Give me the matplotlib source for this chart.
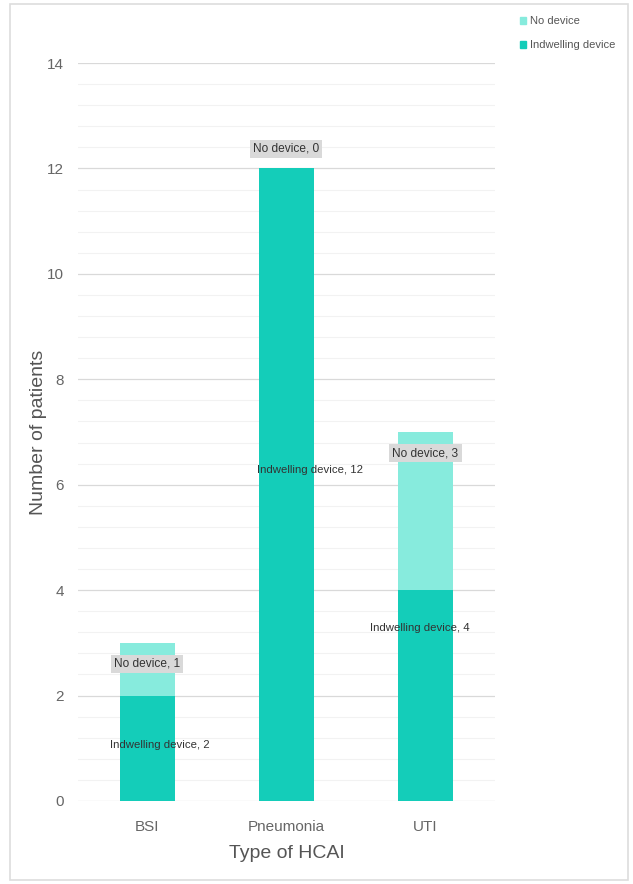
import matplotlib.pyplot as plt
from matplotlib.patches import Rectangle, Patch
from matplotlib.ticker import MultipleLocator

plt.rcParams['font.family'] = ['Liberation Sans', 'DejaVu Sans']

categories = ["BSI", "Pneumonia", "UTI"]
indwelling = [2, 12, 4]
no_device = [1, 0, 3]
indw_label_y = [1.06, 6.28, 3.28]
nodev_label_y = [2.6, 12.37, 6.6]
indw_label_dx = [0.09, 0.17, -0.04]

col_indw = "#14CDB9"
col_nodev = "#87EBDD"

fig = plt.figure(figsize=(6.33, 8.84), dpi=100)
ax = fig.add_axes([0.123, 0.0939, 0.659, 0.8348])

x = range(len(categories))
ax.bar(x, indwelling, width=0.4, color=col_indw, zorder=3)
ax.bar(x, no_device, width=0.4, bottom=indwelling, color=col_nodev, zorder=3)

for i in x:
    ax.text(i + indw_label_dx[i], indw_label_y[i], "Indwelling device, %d" % indwelling[i],
            ha="center", va="center", fontsize=8.2, color="#333333", zorder=5)
    ax.text(i, nodev_label_y[i], "No device, %d" % no_device[i],
            ha="center", va="center", fontsize=8.6, color="#333333", zorder=5,
            bbox=dict(boxstyle="square,pad=0.25", fc="#d9d9d9", ec="none"))

ax.set_xlim(-0.5, 2.5)
ax.set_ylim(0, 14)
ax.set_xticks(list(x))
ax.set_xticklabels(categories)
ax.yaxis.set_major_locator(MultipleLocator(2))
ax.yaxis.set_minor_locator(MultipleLocator(0.4))
ax.grid(axis="y", which="major", color="#d9d9d9", lw=0.9, zorder=0)
ax.grid(axis="y", which="minor", color="#f2f2f2", lw=0.8, zorder=0)
for s in ax.spines.values():
    s.set_visible(False)
ax.tick_params(which="both", length=0, labelsize=11, labelcolor="#666666")
ax.tick_params(axis="y", pad=10)
ax.tick_params(axis="x", pad=13.5)
ax.set_xlabel("Type of HCAI", fontsize=14, color="#555555", labelpad=8)
ax.set_ylabel("Number of patients", fontsize=14, color="#555555", labelpad=0)

handles = [Patch(color=col_nodev, label="No device"),
           Patch(color=col_indw, label="Indwelling device")]
fig.legend(handles=handles, loc="upper left", bbox_to_anchor=(0.805, 0.993),
           frameon=False, fontsize=8, handlelength=0.6, handleheight=0.6,
           handletextpad=0.35, labelspacing=1.25, labelcolor="#555555")

fig.patches.append(Rectangle((10 / 633, 4 / 884), 618 / 633, 876 / 884,
                             transform=fig.transFigure, fill=False,
                             ec="#dddddd", lw=1.2))

fig.savefig("out.png", dpi=100)
